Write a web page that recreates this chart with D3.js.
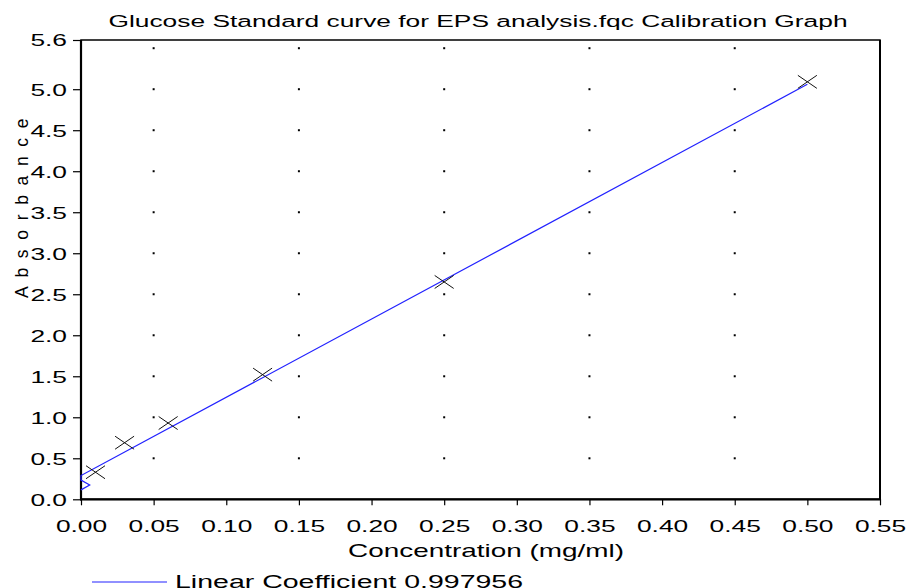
<!DOCTYPE html>
<html>
<head>
<meta charset="utf-8">
<script src="https://cdn.jsdelivr.net/npm/d3@7"></script>
<style>
  body { margin: 0; background: #fff; }
  text { font-family: "Liberation Sans", Arial, sans-serif; fill: #000; }
</style>
</head>
<body>
<script>
// standards (X markers)
const concentration = [0.01, 0.03, 0.06, 0.125, 0.25, 0.5];
const absorbance = [0.33, 0.69, 0.93, 1.52, 2.65, 5.09];

// calibration line as drawn (incl. the little kink at the origin)
const fitConc = [0, 0.006, 0, 0, 0.5];
const fitAbs = [0.115, 0.175, 0.235, 0.29, 5.06];

const xTicks = [0, 0.05, 0.1, 0.15, 0.2, 0.25, 0.3, 0.35, 0.4, 0.45, 0.5, 0.55];
const yTicks = [0, 0.5, 1.0, 1.5, 2.0, 2.5, 3.0, 3.5, 4.0, 4.5, 5.0, 5.6];
const gridX = [0.05, 0.15, 0.25, 0.35, 0.45, 0.55];
const gridY = [0.5, 1.0, 1.5, 2.0, 2.5, 3.0, 3.5, 4.0, 4.5, 5.0, 5.5];

const width = 907, height = 588;
const SX = 1.55; // horizontal stretch of the lettering
const plot = { left: 81, right: 880, top: 40, bottom: 499.3 };

const svg = d3.select('body').append('svg')
  .attr('width', width)
  .attr('height', height);

const x = d3.scaleLinear().domain([0, 0.55]).range([plot.left, plot.right]);
const y = d3.scaleLinear().domain([0, 5.6]).range([plot.bottom, plot.top]);

// title
svg.append('text')
  .attr('transform', `translate(478,27) scale(${SX},1)`)
  .attr('text-anchor', 'middle')
  .style('font-size', '17px')
  .text('Glucose Standard curve for EPS analysis.fqc Calibration Graph');

// dotted grid
const dots = [];
gridX.forEach(gx => gridY.forEach(gy => dots.push([gx, gy])));
svg.append('g').selectAll('rect')
  .data(dots)
  .enter().append('rect')
  .attr('x', d => x(d[0]) - 1)
  .attr('y', d => y(d[1]) - 1)
  .attr('width', 2)
  .attr('height', 2)
  .attr('fill', '#000');

// axes
const yAxis = d3.axisLeft(y).tickValues(yTicks).tickSize(8).tickFormat(d3.format('.1f'));
const xAxis = d3.axisBottom(x).tickValues(xTicks).tickSize(6).tickFormat(d3.format('.2f'));

const gY = svg.append('g').attr('transform', `translate(${plot.left},0)`).call(yAxis);
gY.select('.domain').remove();
gY.selectAll('.tick line').attr('stroke', '#000').attr('stroke-width', 1.2);
gY.selectAll('.tick text')
  .attr('x', -14 / SX)
  .attr('dy', '0.35em')
  .attr('transform', `scale(${SX},1)`)
  .style('font-size', '17px')
  .style('font-family', '"Liberation Sans", Arial, sans-serif');

const gX = svg.append('g').attr('transform', `translate(0,${plot.bottom})`).call(xAxis);
gX.select('.domain').remove();
gX.selectAll('.tick line').attr('stroke', '#000').attr('stroke-width', 1.2);
gX.selectAll('.tick text')
  .attr('y', 32.7)
  .attr('dy', 0)
  .attr('transform', `scale(${SX},1)`)
  .style('font-size', '17px')
  .style('font-family', '"Liberation Sans", Arial, sans-serif');

// frame
svg.append('rect')
  .attr('x', plot.left).attr('y', plot.top)
  .attr('width', plot.right - plot.left).attr('height', plot.bottom - plot.top)
  .attr('fill', 'none').attr('stroke', '#000').attr('stroke-width', 1.5);
svg.append('line')
  .attr('x1', plot.left).attr('x2', plot.left).attr('y1', plot.top).attr('y2', plot.bottom + 1)
  .attr('stroke', '#000').attr('stroke-width', 2.2);
svg.append('line')
  .attr('x1', plot.left - 1).attr('x2', plot.right + 1).attr('y1', plot.bottom).attr('y2', plot.bottom)
  .attr('stroke', '#000').attr('stroke-width', 2.2);
svg.append('line')
  .attr('x1', plot.right).attr('x2', plot.right).attr('y1', plot.top).attr('y2', plot.bottom)
  .attr('stroke', '#000').attr('stroke-width', 2);

// fitted line
const fitData = fitConc.map((c, i) => ({ c, a: fitAbs[i] }));
svg.append('path')
  .datum(fitData)
  .attr('fill', 'none')
  .attr('stroke', '#2222ff')
  .attr('stroke-width', 1.2)
  .attr('d', d3.line().x(d => x(d.c)).y(d => y(d.a)));

// standards
const pts = concentration.map((c, i) => ({ c, a: absorbance[i] }));
svg.append('g').selectAll('path')
  .data(pts)
  .enter().append('path')
  .attr('transform', d => `translate(${x(d.c)},${y(d.a)})`)
  .attr('d', 'M-9.5,-6.5L9.5,6.5M-9.5,6.5L9.5,-6.5')
  .attr('stroke', '#111')
  .attr('stroke-width', 1)
  .attr('fill', 'none');

// axis titles
svg.append('text')
  .attr('transform', `translate(486,557) scale(${SX},1)`)
  .attr('text-anchor', 'middle')
  .style('font-size', '18px')
  .text('Concentration (mg/ml)');

svg.append('text')
  .attr('transform', 'translate(28,207) rotate(-90)')
  .attr('text-anchor', 'middle')
  .style('font-size', '17.5px')
  .style('letter-spacing', '2.4px')
  .text('A b s o r b a n c e');

// legend
svg.append('line')
  .attr('x1', 92).attr('x2', 167).attr('y1', 582).attr('y2', 582)
  .attr('stroke', '#2222ff').attr('stroke-width', 1.2);
svg.append('text')
  .attr('transform', 'translate(175,587.5) scale(1.5,1)')
  .style('font-size', '19px')
  .text('Linear Coefficient 0.997956');
</script>
</body>
</html>
